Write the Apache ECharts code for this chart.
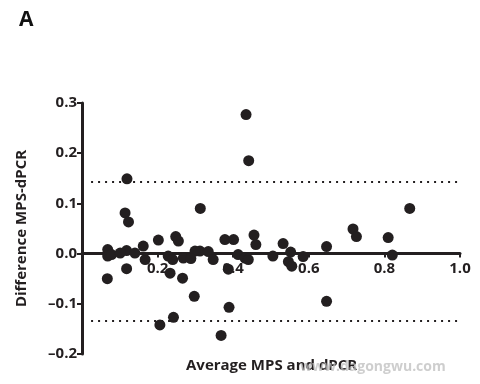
<!DOCTYPE html>
<html>
<head>
<meta charset="utf-8">
<script src="https://cdn.jsdelivr.net/npm/echarts@6/dist/echarts.min.js"></script>
<style>
  html, body { margin: 0; padding: 0; background: #fff; }
  #chart { width: 480px; height: 384px; }
</style>
</head>
<body>
<div id="chart"></div>
<script>
// Bland-Altman: average of MPS and dPCR vs their difference
var avgValues = [
  0.434, 0.441, 0.119, 0.114, 0.123, 0.313, 0.867, 0.717, 0.726, 0.810,
  0.455, 0.460, 0.532, 0.647, 0.552, 0.202, 0.248, 0.255, 0.162, 0.378,
  0.401, 0.068, 0.118, 0.312, 0.334, 0.299, 0.068, 0.078, 0.101, 0.140,
  0.167, 0.228, 0.240, 0.268, 0.288, 0.347, 0.413, 0.431, 0.440, 0.505,
  0.546, 0.555, 0.585, 0.821, 0.067, 0.118, 0.233, 0.266, 0.297, 0.387,
  0.389, 0.242, 0.206, 0.368, 0.647
];
var diffValues = [
  0.277, 0.185, 0.149, 0.081, 0.063, 0.090, 0.090, 0.049, 0.034, 0.032,
  0.037, 0.018, 0.020, 0.014, 0.003, 0.027, 0.034, 0.025, 0.015, 0.028,
  0.028, 0.008, 0.006, 0.005, 0.004, 0.005, -0.005, -0.002, 0.001, 0.001,
  -0.012, -0.005, -0.012, -0.009, -0.010, -0.012, -0.002, -0.009, -0.012, -0.005,
  -0.016, -0.025, -0.006, -0.003, -0.050, -0.030, -0.039, -0.049, -0.085, -0.031,
  -0.107, -0.127, -0.142, -0.163, -0.095
];
var upperLimit = 0.143;
var lowerLimit = -0.134;
var xTicks = [0.2, 0.4, 0.6, 0.8, 1.0];

var ink = '#231f20';
var font = 'Open Sans';

var points = avgValues.map(function (x, i) {
  return [x, diffValues[i]];
});

// grid box; the x axis is lifted to sit on y = 0
var gridTop = 103, gridBottom = 30, chartH = 384;
var yMin = -0.2, yMax = 0.3;
var plotH = chartH - gridTop - gridBottom;
var zeroLift = plotH * (0 - yMin) / (yMax - yMin);

var chartDom = document.getElementById('chart');
var chart = echarts.init(chartDom);
var option = {
  animation: false,
  grid: {
    left: 82,
    right: 20,
    top: gridTop,
    bottom: gridBottom,
    outerBoundsMode: 'none'
  },
  xAxis: {
    type: 'value',
    min: 0,
    max: 1,
    interval: 0.2,
    offset: -zeroLift,
    axisLine: { onZero: false, lineStyle: { color: ink, width: 3 } },
    axisTick: { show: true, length: 4, lineStyle: { color: ink, width: 2 } },
    axisLabel: {
      margin: 8,
      fontFamily: font,
      fontWeight: 'bold',
      fontSize: 15,
      color: ink,
      formatter: function (v) {
        return xTicks.indexOf(Math.round(v * 10) / 10) >= 0 ? v.toFixed(1) : '';
      }
    },
    splitLine: { show: false }
  },
  yAxis: {
    type: 'value',
    min: yMin,
    max: yMax,
    interval: 0.1,
    name: 'Difference MPS-dPCR',
    nameLocation: 'middle',
    nameGap: 53,
    nameTextStyle: {
      fontFamily: font,
      fontWeight: 'bold',
      fontSize: 15,
      color: ink
    },
    axisLine: { show: true, onZero: false, lineStyle: { color: ink, width: 3 } },
    axisTick: { show: true, length: 5, lineStyle: { color: ink, width: 2 } },
    axisLabel: {
      margin: 5,
      fontFamily: font,
      fontWeight: 'bold',
      fontSize: 15,
      color: ink,
      formatter: function (v) {
        return v.toFixed(1).replace('-', '\u2013');
      }
    },
    splitLine: { show: false }
  },
  series: [
    {
      type: 'scatter',
      data: points,
      symbolSize: 11,
      itemStyle: { color: ink, opacity: 1 },
      markLine: {
        silent: true,
        symbol: 'none',
        label: { show: false },
        lineStyle: { color: ink, type: [2, 5], width: 2 },
        data: [
          [{ coord: [0.024, upperLimit] }, { coord: [1, upperLimit] }],
          [{ coord: [0.024, lowerLimit] }, { coord: [1, lowerLimit] }]
        ]
      }
    }
  ],
  graphic: [
    {
      type: 'text',
      left: 19,
      top: 10,
      style: {
        text: 'A',
        fontFamily: font,
        fontWeight: 'bold',
        fontSize: 21,
        fill: '#111'
      }
    },
    {
      type: 'text',
      left: 186,
      top: 358,
      style: {
        text: 'Average MPS and dPCR',
        fontFamily: font,
        fontWeight: 'bold',
        fontSize: 15,
        fill: ink
      }
    },
    {
      type: 'text',
      left: 300,
      top: 360,
      z: 10,
      style: {
        text: 'www.dagongwu.com',
        fontFamily: font,
        fontWeight: 'bold',
        fontSize: 14,
        fill: 'rgba(190,190,190,0.75)'
      }
    }
  ]
};

option && chart.setOption(option);
window.addEventListener('resize', function () {
  chart.resize();
});
</script>
</body>
</html>
